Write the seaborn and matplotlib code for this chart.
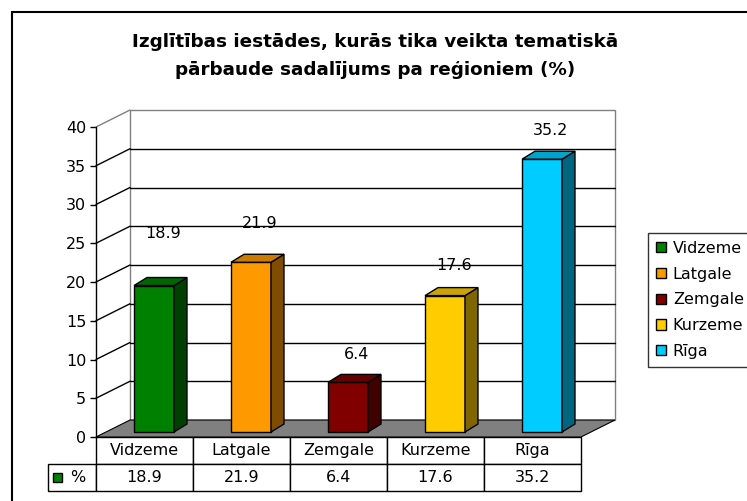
import numpy as np
import matplotlib
matplotlib.use("Agg")
import matplotlib.pyplot as plt
from matplotlib.patches import Polygon, Rectangle, Patch
from matplotlib.transforms import Affine2D
import seaborn as sns

# data
regions = ["Vidzeme", "Latgale", "Zemgale", "Kurzeme", "Rīga"]
values = [18.9, 21.9, 6.4, 17.6, 35.2]
colors = ["#008000", "#FF9900", "#800000", "#FFCC00", "#00CCFF"]
label_lift = [7.4, 5.7, 4.2, 4.5, 4.4]
yticks = [0, 5, 10, 15, 20, 25, 30, 35, 40]
series_name = "%"
title = "Izglītības iestādes, kurās tika veikta tematiskā\npārbaude sadalījums pa reģioniem (%)"

sns.set_style("white")
plt.rcParams["font.family"] = ["DejaVu Sans"]
for k in ["text.color", "axes.labelcolor", "xtick.color", "ytick.color"]:
    plt.rcParams[k] = "black"
FS = 11.5

W, H = 747, 501
fig = plt.figure(figsize=(W / 100, H / 100), dpi=100)
fig.patch.set_facecolor("white")

# front plane of the 3d box (pixels): x 96..581, y 437 (0) .. 127 (40)
ax = fig.add_axes([96 / W, 1 - 437 / H, 485 / W, 310 / H])
ax.set_xlim(-0.5, 4.5)
ax.set_ylim(0, 40)
ax.patch.set_alpha(0)

# depth of the box in data units
D, Dy = 34 / 97, 17 / 7.75
# bar placement inside the depth
fdx, fdy = 9.5 / 97, 5 / 7.75
bdx, bdy = 13 / 97, 8 / 7.75

# back wall, floor, side lines
ax.add_patch(Polygon([(-0.5 + D, Dy), (4.5 + D, Dy), (4.5 + D, 40 + Dy), (-0.5 + D, 40 + Dy)],
                     closed=True, fc="white", ec="#808080", lw=1, zorder=0.5, clip_on=False))
for v in yticks[1:-1]:
    ax.plot([-0.5 + D, 4.5 + D], [v + Dy, v + Dy], color="black", lw=1, zorder=0.6, clip_on=False)
    ax.plot([-0.5, -0.5 + D], [v, v + Dy], color="black", lw=1, zorder=0.6, clip_on=False)
ax.plot([-0.5, -0.5 + D], [40, 40 + Dy], color="#808080", lw=1, zorder=0.6, clip_on=False)
ax.add_patch(Polygon([(-0.5, 0), (4.5, 0), (4.5 + D, Dy), (-0.5 + D, Dy)],
                     closed=True, fc="#808080", ec="black", lw=0.8, zorder=0.7, clip_on=False))

# bars
sns.barplot(x=regions, y=values, hue=regions, palette=colors, saturation=1,
            width=0.412, edgecolor="black", linewidth=1, legend=False, ax=ax, zorder=2)

shift = Affine2D().translate(fdx, fdy) + ax.transData
for bar, c in zip(ax.patches[2:], colors):
    bar.set_transform(shift)
    bar.set_clip_on(False)
    x0, x1 = bar.get_x(), bar.get_x() + bar.get_width()
    y0, y1 = bar.get_y(), bar.get_y() + bar.get_height()
    rgb = np.array(matplotlib.colors.to_rgb(c))
    side = Polygon([(x1, y0), (x1 + bdx, y0 + bdy), (x1 + bdx, y1 + bdy), (x1, y1)],
                   closed=True, fc=rgb * 0.5, ec="black", lw=1, transform=shift,
                   zorder=2, clip_on=False)
    top = Polygon([(x0, y1), (x0 + bdx, y1 + bdy), (x1 + bdx, y1 + bdy), (x1, y1)],
                  closed=True, fc=rgb * 0.8, ec="black", lw=1, transform=shift,
                  zorder=2, clip_on=False)
    ax.add_patch(side)
    ax.add_patch(top)

for i, v in enumerate(values):
    ax.text(i + 0.19, v + label_lift[i], f"{v}", ha="center", va="center", fontsize=FS, zorder=3)

for s in ["top", "right", "bottom"]:
    ax.spines[s].set_visible(False)
ax.spines["left"].set_color("black")
ax.spines["left"].set_linewidth(1)
ax.set_yticks(yticks)
ax.tick_params(axis="y", direction="out", length=4, width=1, labelsize=FS, pad=3, left=True)
ax.tick_params(axis="x", bottom=False, labelbottom=False)
ax.set_xlabel("")
ax.set_ylabel("")

# data table: first column holds the series name, header corner is empty
tot = 48 + 485
tab = ax.table(cellText=[[""] + regions, [series_name] + [f"{v}" for v in values]],
               colWidths=[48 / tot] + [97 / tot] * 5, cellLoc="center",
               bbox=[-48 / 485, -54 / 310, tot / 485, 54 / 310])
tab.auto_set_font_size(False)
tab.set_fontsize(FS)
for (r, c), cell in tab.get_celld().items():
    cell.set_edgecolor("black")
    cell.set_linewidth(1)
    cell.set_facecolor("white")
    if r == 1 and c == 0:
        cell.get_text().set_horizontalalignment("right")
        cell.PAD = 0.22
tab[(0, 0)].set_visible(False)
fig.add_artist(Rectangle((53 / W, 1 - 482 / H), 9 / W, 9 / H, transform=fig.transFigure,
                         fc=colors[0], ec="black", lw=1))

# title
fig.text(375 / W, 1 - 56 / H, title, ha="center", va="center", fontsize=13.2,
         fontweight="bold", linespacing=1.65)

# legend
handles = [Patch(fc=c, ec="black", lw=1) for c in colors]
leg = fig.legend(handles, regions, loc="upper left", bbox_to_anchor=(648 / W, 1 - 233 / H),
                 frameon=True, fancybox=False, shadow=False, fontsize=FS,
                 handlelength=0.6, handleheight=0.6, handletextpad=0.45,
                 labelspacing=0.67, borderpad=0.5, borderaxespad=0)
leg.get_frame().set_edgecolor("black")
leg.get_frame().set_linewidth(1)

# outer chart frame
fig.add_artist(Rectangle((12 / W, -0.1), 1.2, 1 - 12 / H + 0.1, transform=fig.transFigure,
                         fill=False, ec="black", lw=1.5))

fig.savefig("out.png", dpi=100, facecolor="white")
